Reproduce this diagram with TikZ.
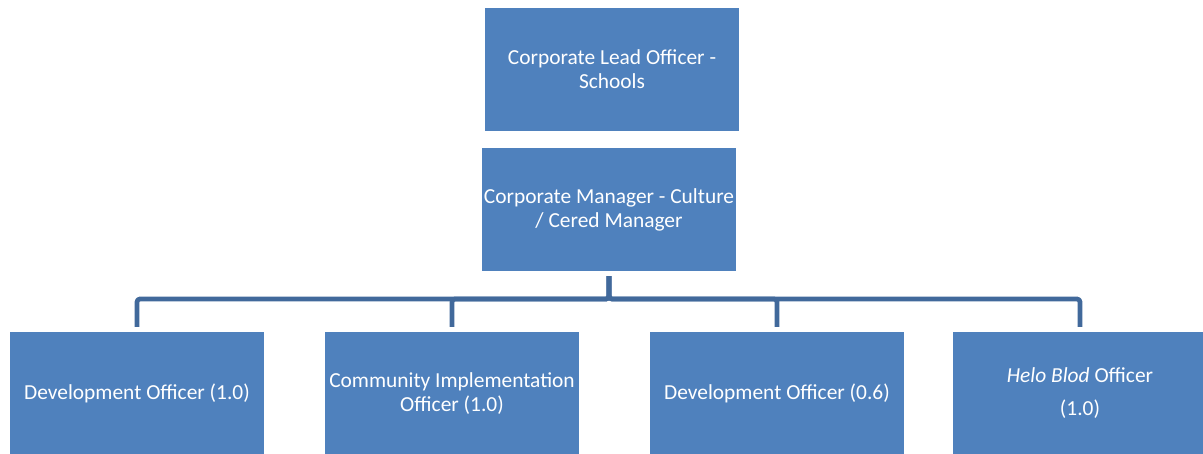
\documentclass[tikz,border=0pt]{standalone}
\usepackage{fontspec}
\setmainfont{Carlito}
\usetikzlibrary{positioning}
\definecolor{boxblue}{HTML}{4F81BD}
\definecolor{linkblue}{HTML}{41699B}
\begin{document}
\begin{tikzpicture}[
  x=1pt,
  y=-1pt,
  line join=round,
  post/.style={
    fill=boxblue,
    text=white,
    minimum width=254pt,
    minimum height=123pt,
    inner sep=0pt,
    align=center,
    font=\fontsize{21.4}{24}\selectfont
  },
  link/.style={
    draw=linkblue,
    line width=4.8pt,
    rounded corners=3pt,
    shorten <=5pt,
    shorten >=5pt
  }
]
  \useasboundingbox (0,0) rectangle (1203,454);

  % Верхние уровни
  \node[post] (lead) at (612,69.5)
    {Corporate Lead Officer -\\Schools};

  \node[post] (mgr) at (609,209.5)
    {Corporate Manager - Culture\\/ Cered Manager};

  % Нижний уровень
  \node[post] (dev1) at (137,393.5)
    {Development Officer (1.0)};

  \node[post] (comm) at (452,393.5)
    {Community Implementation\\Officer (1.0)};

  \node[post] (dev2) at (777,393.5)
    {Development Officer (0.6)};

  \node[post] (helo) at (1080,393.5)
    {\textit{Helo Blod} Officer\\[9pt](1.0)};

  % Общая шина: y = 299
  \coordinate (bus) at (609,299);

  \draw[link]
    (mgr.south) -- (mgr.south |- bus) -| (dev1.north);

  \draw[link]
    (mgr.south) -- (mgr.south |- bus) -| (comm.north);

  \draw[link]
    (mgr.south) -- (mgr.south |- bus) -| (dev2.north);

  \draw[link]
    (mgr.south) -- (mgr.south |- bus) -| (helo.north);
\end{tikzpicture}
\end{document}
